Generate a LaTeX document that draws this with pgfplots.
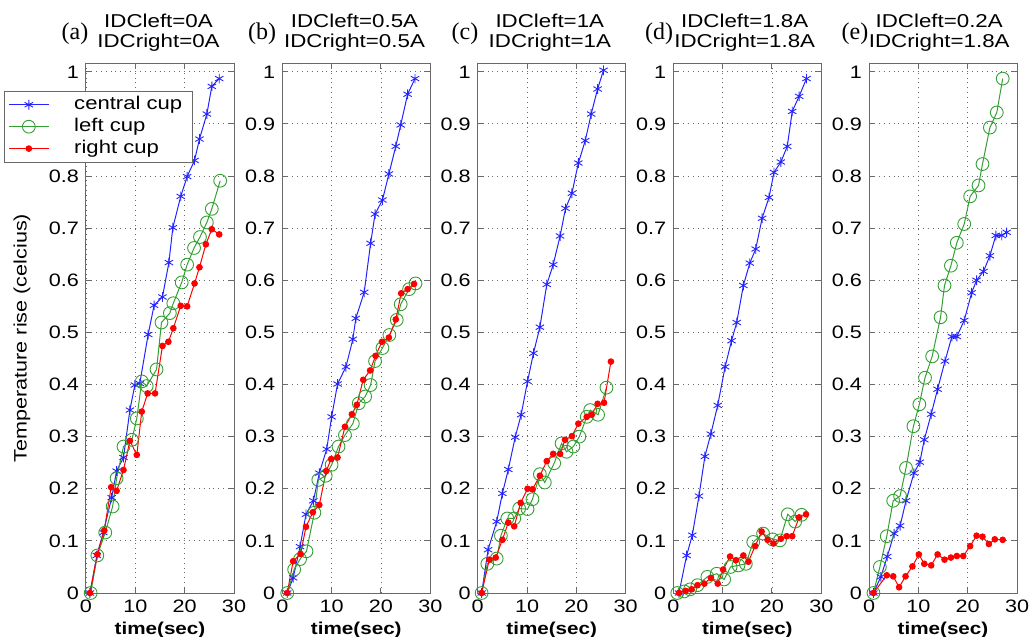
\documentclass[border=0pt]{standalone}
\usepackage{fontspec}
\setmainfont{Liberation Sans}[FakeStretch=1.2]
\newfontfamily\seriffont{Liberation Serif}
\usepackage{pgfplots}
\pgfplotsset{compat=1.18}

\definecolor{mblue}{RGB}{35,35,255}
\definecolor{mgreen}{RGB}{50,160,50}
\definecolor{mred}{RGB}{255,0,0}
\definecolor{frame}{RGB}{105,105,105}

\pgfplotsset{
  panel/.style={
    scale only axis, width=74pt, height=264.5pt, anchor=south west,
    xmin=0, xmax=30, ymin=0, ymax=1.015,
    xtick={0,10,20,30},
    ytick={0,0.1,0.2,0.3,0.4,0.5,0.6,0.7,0.8,0.9,1},
    yticklabel style={/pgf/number format/fixed},
    grid=major, grid style={line width=0.45pt, dotted, frame},
    axis line style={frame, line width=0.5pt},
    tick style={frame, line width=0.5pt}, tick align=inside, major tick length=2.5pt,
    ticklabel style={font=\fontsize{9}{10}\selectfont, text=black},
    /pgf/number format/assume math mode=true,
    xlabel={time(sec)},
    xlabel style={font=\bfseries\fontsize{8.6}{10}\selectfont, at={(rel axis cs:0.5,0)}, anchor=base, yshift=-20.5pt},
    clip=false,
  },
  cen/.style={mblue, line width=0.5pt, mark=asterisk, mark size=2.4pt, mark options={solid, line width=0.45pt}},
  lef/.style={mgreen, line width=0.5pt, mark=o, mark size=3.2pt, mark options={solid, line width=0.45pt}},
  rig/.style={mred, line width=0.5pt, mark=*, mark size=1.4pt, mark options={solid}},
}

\begin{document}
\begin{tikzpicture}
\path[use as bounding box] (0,0) rectangle (515.5pt,318pt);

% (a)
\begin{axis}[panel, at={(43pt,21.5pt)},
  ylabel={Temperature rise (celcius)},
  ylabel style={font=\fontsize{9}{10}\selectfont, at={(rel axis cs:-0.432,0.482)}, anchor=center},
  legend style={at={(-0.554,0.949)}, anchor=north west, font=\fontsize{9.2}{10}\selectfont,
    draw=frame, fill=white, inner xsep=2pt, inner ysep=2pt, row sep=1.6pt,
    nodes={inner ysep=0.6pt, inner xsep=3pt},
    /tikz/every odd column/.append style={column sep=9.5pt},
    /tikz/every even column/.append style={column sep=0pt}},
  legend cell align=left,
  legend image code/.code={\draw[mark repeat=2,mark phase=2,#1] plot coordinates {(0cm,0cm) (0.35cm,0cm) (0.7cm,0cm)};},
]
\addplot[cen] coordinates {
 (0.8,0) (2.2,0.072) (3.5,0.116) (5.2,0.183) (6.2,0.234) (7.6,0.260) (8.9,0.351)
 (9.9,0.399) (10.9,0.402) (12.6,0.496) (13.8,0.552) (15.5,0.568) (16.8,0.634)
 (17.6,0.701) (19.2,0.761) (20.5,0.799) (22.0,0.830) (23.0,0.871) (24.5,0.919)
 (25.5,0.972) (27.0,0.987)};
\addplot[lef] coordinates {
 (0.95,0) (2.3,0.072) (3.9,0.116) (5.4,0.166) (6.2,0.220) (7.6,0.281) (9.3,0.294)
 (10.3,0.335) (11.3,0.406) (12.3,0.397) (14.3,0.429) (15.3,0.519) (17.0,0.537)
 (17.7,0.556) (19.4,0.596) (20.5,0.630) (21.9,0.662) (23.1,0.683) (24.5,0.711)
 (25.5,0.737) (27.2,0.791)};
\addplot[rig] coordinates {
 (0.8,0) (2.3,0.074) (3.7,0.120) (5.1,0.203) (6.2,0.196) (7.6,0.236) (8.9,0.292)
 (10.3,0.265) (11.3,0.348) (12.5,0.383) (14.0,0.383) (15.5,0.474) (16.7,0.482)
 (17.7,0.508) (19.2,0.551) (20.5,0.550) (22.0,0.594) (23.0,0.625) (24.3,0.669)
 (25.5,0.698) (27.0,0.688)};
\legend{central cup, left cup, right cup}
\end{axis}

% (b)
\begin{axis}[panel, at={(141.15pt,21.5pt)}]
\addplot[cen] coordinates {
 (1.0,0) (2.2,0.029) (3.6,0.089) (4.8,0.151) (6.3,0.177) (7.5,0.230) (9.0,0.276)
 (10.0,0.338) (11.2,0.401) (12.9,0.434) (14.3,0.487) (14.9,0.527) (16.6,0.577)
 (17.9,0.671) (18.8,0.727) (20.3,0.754) (21.6,0.804) (23.0,0.857) (24.0,0.898)
 (25.4,0.957) (26.9,0.987)};
\addplot[lef] coordinates {
 (1.0,0) (2.4,0.045) (3.6,0.065) (4.9,0.080) (6.5,0.154) (7.3,0.217) (8.8,0.225)
 (10.0,0.246) (11.4,0.281) (12.7,0.303) (14.3,0.325) (15.5,0.364) (16.8,0.377)
 (17.9,0.399) (18.8,0.445) (20.3,0.470) (21.7,0.495) (23.2,0.524) (24.0,0.554)
 (25.7,0.583) (27.0,0.594)};
\addplot[rig] coordinates {
 (1.0,0) (2.2,0.061) (3.7,0.075) (4.8,0.127) (6.2,0.155) (7.5,0.169) (8.9,0.234)
 (9.9,0.257) (11.2,0.260) (12.7,0.319) (14.1,0.343) (15.1,0.361) (16.4,0.409)
 (17.8,0.427) (18.9,0.455) (20.2,0.482) (21.6,0.490) (23.0,0.525) (24.1,0.575)
 (25.4,0.583) (26.7,0.593)};
\end{axis}

% (c)
\begin{axis}[panel, at={(238.85pt,21.5pt)}]
\addplot[cen] coordinates {
 (0.8,0) (2.1,0.083) (3.85,0.137) (5.0,0.191) (6.2,0.237) (7.6,0.299) (8.8,0.342)
 (10.1,0.406) (11.3,0.460) (12.6,0.510) (14.0,0.592) (15.3,0.630) (16.7,0.685)
 (17.8,0.738) (19.1,0.767) (20.4,0.825) (21.8,0.868) (23.0,0.919) (24.3,0.967)
 (25.5,1.003)};
\addplot[lef] coordinates {
 (0.8,0) (1.95,0.056) (3.85,0.066) (4.7,0.110) (6.0,0.143) (7.4,0.143) (8.4,0.162)
 (10.1,0.161) (11.1,0.180) (12.6,0.228) (13.6,0.212) (15.5,0.249) (17.0,0.287)
 (18.0,0.271) (19.4,0.281) (20.6,0.300) (22.1,0.338) (22.8,0.351) (24.4,0.342)
 (26.1,0.394)};
\addplot[rig] coordinates {
 (0.8,0) (2.35,0.064) (3.65,0.068) (5.0,0.102) (6.2,0.135) (7.4,0.128) (8.7,0.173)
 (10.1,0.200) (11.1,0.199) (12.6,0.225) (14.0,0.253) (15.3,0.267) (16.7,0.267)
 (17.7,0.294) (19.1,0.301) (20.4,0.325) (22.1,0.338) (23.1,0.342) (24.3,0.363)
 (25.6,0.365) (27.0,0.444)};
\end{axis}

% (d)
\begin{axis}[panel, at={(336.65pt,21.5pt)}]
\addplot[cen] coordinates {
 (1.15,0) (2.7,0.072) (3.85,0.111) (5.2,0.186) (6.4,0.262) (7.6,0.305) (9.0,0.360)
 (10.5,0.434) (11.8,0.484) (12.85,0.519) (14.2,0.590) (15.5,0.633) (16.7,0.660)
 (18.0,0.719) (19.4,0.759) (20.4,0.807) (21.8,0.827) (23.1,0.857) (24.1,0.924)
 (25.5,0.953) (27.0,0.987)};
\addplot[lef] coordinates {
 (0.8,0) (2.2,0.003) (3.4,0.007) (4.9,0.015) (6.9,0.031) (8.8,0.037) (10.3,0.026)
 (11.6,0.050) (13.2,0.053) (14.7,0.056) (16.2,0.098) (18.2,0.114) (20.1,0.103)
 (21.6,0.101) (23.2,0.151) (24.7,0.137) (26.0,0.150)};
\addplot[rig] coordinates {
 (1.15,0) (2.5,0.004) (3.7,0.007) (4.9,0.015) (6.3,0.018) (7.6,0.029) (9.0,0.018)
 (10.1,0.045) (11.5,0.070) (12.7,0.063) (14.2,0.072) (15.2,0.060) (16.6,0.090)
 (17.9,0.118) (19.1,0.102) (20.3,0.095) (21.8,0.104) (23.0,0.109) (24.1,0.109)
 (25.5,0.145) (26.9,0.151)};
\end{axis}

% (e)
\begin{axis}[panel, at={(434.5pt,21.5pt)}]
\addplot[cen] coordinates {
 (0.9,0) (2.4,0.031) (3.7,0.070) (5.1,0.114) (6.3,0.129) (7.5,0.177) (9.1,0.230)
 (10.3,0.251) (11.2,0.294) (12.6,0.343) (13.9,0.391) (15.4,0.445) (16.8,0.492)
 (17.8,0.492) (19.3,0.523) (20.8,0.576) (21.8,0.600) (23.2,0.617) (24.5,0.647)
 (25.7,0.686) (26.9,0.686) (27.9,0.692)};
\addplot[lef] coordinates {
 (0.9,0) (2.2,0.050) (3.6,0.109) (4.9,0.177) (6.3,0.186) (7.5,0.240) (9.0,0.320)
 (10.2,0.362) (11.35,0.413) (12.8,0.454) (14.5,0.529) (15.3,0.590) (16.6,0.628)
 (17.8,0.672) (19.3,0.708) (20.5,0.761) (22.2,0.782) (23.0,0.823) (24.5,0.893)
 (25.9,0.922) (27.1,0.987)};
\addplot[rig] coordinates {
 (0.9,0) (3.6,0.034) (4.9,0.032) (6.1,0.011) (7.4,0.032) (8.8,0.051) (10.1,0.074)
 (11.2,0.056) (12.6,0.053) (13.9,0.074) (15.3,0.064) (16.6,0.068) (17.8,0.071)
 (19.1,0.071) (20.5,0.090) (21.8,0.110) (23.0,0.108) (24.3,0.094) (25.5,0.103)
 (27.1,0.102)};
\end{axis}

% panel titles
\begin{scope}[every node/.style={anchor=base, inner sep=0pt, font=\fontsize{9.3}{10}\selectfont}]
\node at (79.25pt,304pt) {IDCleft=0A};
\node at (79.25pt,294pt) {IDCright=0A};
\node at (177.25pt,304pt) {IDCleft=0.5A};
\node at (177.25pt,294pt) {IDCright=0.5A};
\node at (274.9pt,304pt) {IDCleft=1A};
\node at (274.9pt,294pt) {IDCright=1A};
\node at (372.35pt,304pt) {IDCleft=1.8A};
\node at (372.35pt,294pt) {IDCright=1.8A};
\node at (469.6pt,304pt) {IDCleft=0.2A};
\node at (469.6pt,294pt) {IDCright=1.8A};
\end{scope}
\begin{scope}[every node/.style={anchor=base, inner sep=0pt, font=\seriffont\fontsize{12}{14}\selectfont}]
\node at (37.5pt,298pt) {(a)};
\node at (131pt,298pt) {(b)};
\node at (232.5pt,298pt) {(c)};
\node at (329.5pt,298pt) {(d)};
\node at (427.5pt,298pt) {(e)};
\end{scope}
\end{tikzpicture}
\end{document}
